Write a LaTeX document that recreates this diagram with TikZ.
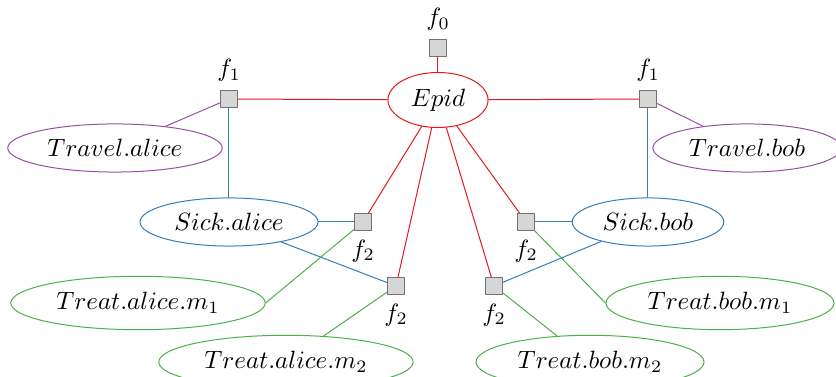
\documentclass[tikz,border=0pt]{standalone}
\usepackage{tikz}
\usetikzlibrary{
    shapes.geometric    % ellipse nodes for the variables
}
\definecolor{epidred}{RGB}{228,26,28}
\definecolor{sickblue}{RGB}{55,126,184}
\definecolor{treatgreen}{RGB}{77,175,74}
\definecolor{travelpurple}{RGB}{152,78,163}
\tikzset{
    var node/.style={ellipse, draw},
    factor node/.style={rectangle, draw=black!55, fill=black!16, minimum size=6.8pt, inner sep=0pt},
    epid edge/.style={draw=epidred},
    sick edge/.style={draw=sickblue},
    treat edge/.style={draw=treatgreen},
    travel edge/.style={draw=travelpurple}
}
\begin{document}
\begin{tikzpicture}[x=0.4pt, y=-0.4pt, line cap=round, line join=round]
        \useasboundingbox (0,0) rectangle (836,377);
        % variables
        \node [var node, draw=epidred] (epid) at (438,100) {$Epid$};
        \node [var node, draw=travelpurple] (travelA) at (115,148) {$Travel.alice$};
        \node [var node, draw=travelpurple] (travelB) at (747,148) {$Travel.bob$};
        \node [var node, draw=sickblue] (sickA) at (229,222) {$Sick.alice$};
        \node [var node, draw=sickblue] (sickB) at (648,222) {$Sick.bob$};
        \node [var node, draw=treatgreen] (treatA1) at (138,303) {$Treat.alice.m_1$};
        \node [var node, draw=treatgreen] (treatA2) at (286,362) {$Treat.alice.m_2$};
        \node [var node, draw=treatgreen] (treatB1) at (720,303) {$Treat.bob.m_1$};
        \node [var node, draw=treatgreen] (treatB2) at (590,362) {$Treat.bob.m_2$};

        % factors
        \node [factor node, label=above:$f_0$] (f0) at (438,48) {};
        \node [factor node, label=above:$f_1$] (f1A) at (229,99) {};
        \node [factor node, label=above:$f_1$] (f1B) at (648,99) {};
        \node [factor node, label=below:$f_2$] (f2A1) at (363,222) {};
        \node [factor node, label=below:$f_2$] (f2A2) at (396,286) {};
        \node [factor node, label=below:$f_2$] (f2B1) at (526,222) {};
        \node [factor node, label=below:$f_2$] (f2B2) at (494,286) {};

        % edges
        \draw [epid edge] (f0) -- (epid);
        \draw [epid edge] (epid) -- (f1A);
        \draw [epid edge] (epid) -- (f1B);
        \draw [epid edge] (epid) -- (f2A1);
        \draw [epid edge] (epid) -- (f2A2);
        \draw [epid edge] (epid) -- (f2B1);
        \draw [epid edge] (epid) -- (f2B2);
        \draw [travel edge] (f1A) -- (travelA);
        \draw [travel edge] (f1B) -- (travelB);
        \draw [sick edge] (f1A) -- (sickA);
        \draw [sick edge] (f1B) -- (sickB);
        \draw [sick edge] (sickA) -- (f2A1);
        \draw [sick edge] (sickA) -- (f2A2);
        \draw [sick edge] (sickB) -- (f2B1);
        \draw [sick edge] (sickB) -- (f2B2);
        \draw [treat edge] (treatA1.east) -- (f2A1);
        \draw [treat edge] (treatA2) -- (f2A2);
        \draw [treat edge] (treatB1.west) -- (f2B1);
        \draw [treat edge] (treatB2) -- (f2B2);
    \end{tikzpicture}
\end{document}
